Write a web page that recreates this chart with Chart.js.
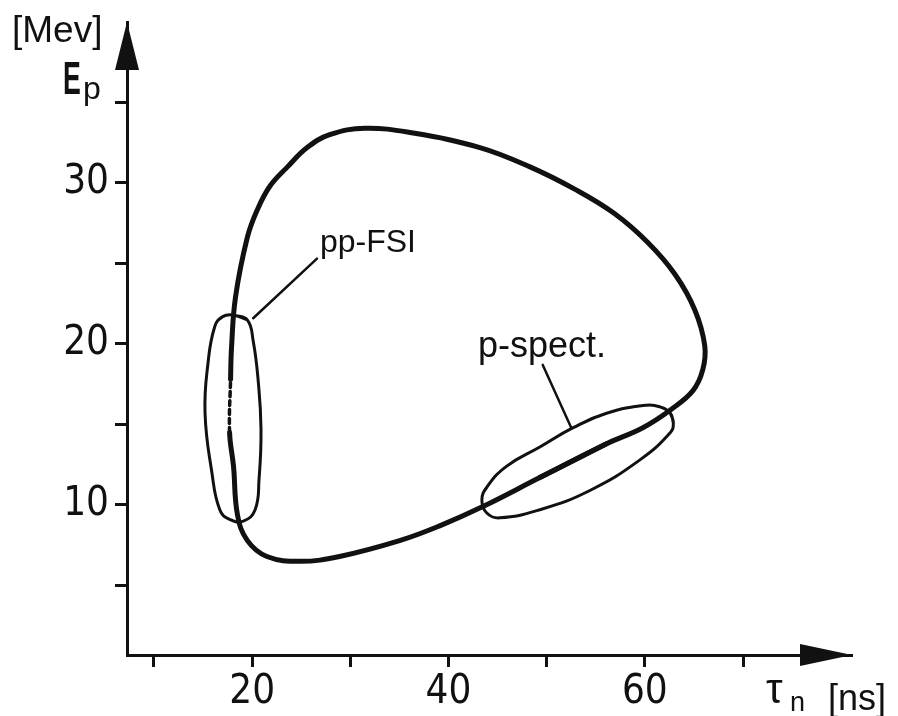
<!DOCTYPE html>
<html>
<head>
<meta charset="utf-8">
<script src="https://cdn.jsdelivr.net/npm/chart.js@4.4.1/dist/chart.umd.min.js"></script>
<style>
  body { margin: 0; background: #fff; }
  canvas { display: block; }
</style>
</head>
<body>
<canvas id="loop" width="898" height="716"></canvas>
<script>
// kinematic locus, tau_n (ns) vs E_p (MeV)
var curveX = [56.1, 49.3, 43.5, 39.1, 35.1, 28.9, 24.9, 21.5, 19.5, 18.5, 18.1, 17.7, 17.8, 17.9, 18.3,
              19.5, 20.5, 21.8, 23.6, 25.6, 27.9, 31.5, 36.4, 43.2, 48.3, 52.9, 56.9, 60.3, 63.1, 65.1,
              66.1, 65.9, 64.9, 62.6, 59.8, 56.1, 49.3];
var curveY = [13.8, 11.7, 9.9, 8.7, 7.8, 6.8, 6.5, 6.8, 7.8, 9.4, 12.4, 14.5, 17.8, 19.8, 22.9,
              26.6, 28.3, 29.8, 31.0, 32.2, 33.0, 33.4, 33.1, 32.2, 31.0, 29.6, 28.1, 26.3, 24.3, 22.1,
              19.9, 18.4, 17.1, 15.9, 14.8, 13.8, 11.7];
var DASHED_FROM = 11;   // the broken piece inside the pp-FSI region

// pp-FSI window
var ppX = [18.05, 19.5, 20.1, 20.6, 20.9, 20.7, 20.3, 19.1, 17.7, 16.7, 15.9, 15.2, 15.5, 16.2, 17.0, 18.05, 19.5];
var ppY = [21.8, 21.5, 20.2, 17.8, 14.7, 11.6, 9.7, 9.0, 9.1, 9.7, 12.0, 15.7, 18.8, 21.1, 21.7, 21.8, 21.5];

// p-spect. window
var psX = [62.6, 62.9, 62.6, 59.5, 54.4, 49.3, 45.2, 43.9, 43.4, 43.9, 45.9, 49.3, 52.7, 56.1, 60.2, 61.5, 62.6, 62.9];
var psY = [15.7, 15.1, 14.5, 12.8, 10.9, 9.7, 9.2, 9.5, 10.3, 11.1, 12.4, 13.6, 14.8, 15.7, 16.2, 16.1, 15.7, 15.1];

// label leader lines
var ppLeadX = [26.6, 20.1];
var ppLeadY = [25.3, 21.6];
var psLeadX = [49.6, 52.5];
var psLeadY = [18.7, 14.8];

// label anchors (left, baseline)
var labels = [
  { text: "pp-FSI", x: 26.9, y: 25.7, size: 32 },
  { text: "p-spect.", x: 43.0, y: 19.2, size: 36 }
];

var xTickLabels = [20, 40, 60];
var yTickLabels = [10, 20, 30];

var INK = "#111";
var NARROW = "'Liberation Sans Narrow', 'DejaVu Sans Condensed', 'Liberation Sans', sans-serif";
var SANS = "'Liberation Sans', Arial, sans-serif";

function pts(xs, ys) {
  return xs.map(function(x, i) { return { x: x, y: ys[i] }; });
}

function line(data, width, tension) {
  return {
    data: data, showLine: true, borderColor: INK, borderWidth: width,
    pointRadius: 0, tension: tension, fill: false,
    borderCapStyle: "round", borderJoinStyle: "round"
  };
}

var main = line(pts(curveX, curveY), 5, 0.4);
main.segment = {
  borderDash: function(ctx) { return ctx.p0DataIndex === DASHED_FROM ? [5, 4] : undefined; },
  borderWidth: function(ctx) { return ctx.p0DataIndex === DASHED_FROM ? 3.5 : undefined; }
};

// drop the room chart.js keeps for half-labels, the axes sit where the padding says
function noPad(s) {
  s.paddingTop = 0; s.paddingBottom = 0; s.paddingLeft = 0; s.paddingRight = 0;
}

var decor = {
  id: "decor",
  afterDraw: function(chart) {
    var c = chart.ctx, a = chart.chartArea;
    var xs = chart.scales.x, ys = chart.scales.y;
    c.save();
    c.fillStyle = INK;
    // arrow heads
    c.beginPath();
    c.moveTo(a.left, a.top);
    c.lineTo(a.left - 12, a.top + 48);
    c.lineTo(a.left + 12, a.top + 48);
    c.closePath();
    c.fill();
    c.beginPath();
    c.moveTo(a.right, a.bottom);
    c.lineTo(a.right - 52, a.bottom - 11);
    c.lineTo(a.right - 52, a.bottom + 11);
    c.closePath();
    c.fill();

    // region labels
    c.textBaseline = "alphabetic";
    c.textAlign = "left";
    labels.forEach(function(l) {
      c.font = l.size + "px " + SANS;
      c.fillText(l.text, xs.getPixelForValue(l.x), ys.getPixelForValue(l.y));
    });

    // axis titles
    c.font = "37px " + SANS;
    c.fillText("[Mev]", a.left - 115, a.top + 20);
    c.save();
    c.translate(a.left - 64, a.top + 72);
    c.scale(0.58, 1);
    c.font = "bold 46px " + SANS;
    c.fillText("E", 0, 0);
    c.restore();
    c.font = "32px " + SANS;
    c.fillText("p", a.left - 44, a.top + 77);

    c.font = "42px " + SANS;
    c.fillText("\u03c4", a.right - 86, a.bottom + 48);
    c.font = "27px " + SANS;
    c.fillText("n", a.right - 62, a.bottom + 56);
    c.font = "36px " + SANS;
    c.fillText("[ns]", a.right - 24, a.bottom + 55);
    c.restore();
  }
};

new Chart(document.getElementById("loop"), {
  type: "scatter",
  data: {
    datasets: [
      main,
      line(pts(ppX, ppY), 3, 0.45),
      line(pts(psX, psY), 3, 0.45),
      line(pts(ppLeadX, ppLeadY), 2.5, 0),
      line(pts(psLeadX, psLeadY), 2.5, 0)
    ]
  },
  options: {
    responsive: false,
    animation: false,
    layout: { padding: { top: 22, right: 46, left: 0, bottom: 0 } },
    plugins: { legend: { display: false }, tooltip: { enabled: false } },
    scales: {
      x: {
        type: "linear", min: 7.25, max: 81.1,
        afterFit: function(s) { s.height = 61; noPad(s); },
        afterBuildTicks: function(s) { s.ticks = s.ticks.filter(function(t) { return t.value <= 70; }); },
        border: { display: true, color: INK, width: 3 },
        grid: { display: true, drawOnChartArea: false, drawTicks: true, tickLength: 12, tickWidth: 3, tickColor: INK },
        ticks: {
          stepSize: 10, includeBounds: false, color: INK, padding: 2, maxRotation: 0, autoSkip: false,
          font: { family: NARROW, size: 40 },
          callback: function(v) { return xTickLabels.indexOf(v) >= 0 ? String(v) : ""; }
        }
      },
      y: {
        type: "linear", min: 0.68, max: 40,
        afterFit: function(s) { s.width = 127; noPad(s); },
        afterBuildTicks: function(s) { s.ticks = s.ticks.filter(function(t) { return t.value <= 35; }); },
        border: { display: true, color: INK, width: 3 },
        grid: { display: true, drawOnChartArea: false, drawTicks: true, tickLength: 12, tickWidth: 3, tickColor: INK },
        ticks: {
          stepSize: 5, includeBounds: false, color: INK, padding: 6, autoSkip: false,
          font: { family: NARROW, size: 40 },
          callback: function(v) { return yTickLabels.indexOf(v) >= 0 ? String(v) : ""; }
        }
      }
    }
  },
  plugins: [decor]
});
</script>
</body>
</html>
